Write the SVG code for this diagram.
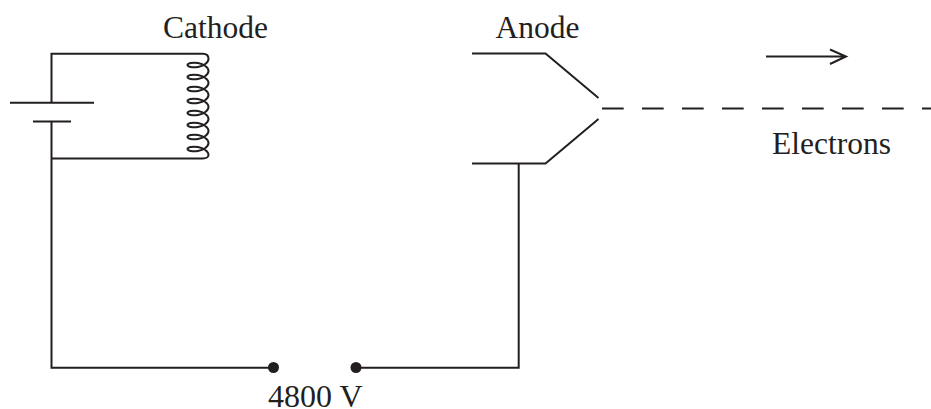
<svg xmlns="http://www.w3.org/2000/svg" width="931" height="409" viewBox="0 0 931 409">
<style>
.w{fill:none;stroke:#231f20;stroke-width:2}
.t{font-family:"Liberation Serif","Times New Roman",serif;font-size:31.5px;fill:#231f20}
.d{fill:#231f20}
</style>
<rect width="931" height="409" fill="#fff"/>
<g id="connectors">
<path class="w" d="M51.5,102.5V53.7H203C207,53.7 208.5,56 208.5,59"/>
<path class="w" d="M51.5,122V367.7H273"/>
<path class="w" d="M51.5,158.5H203C206,158.5 208.5,157 208.5,155"/>
<path class="w" d="M356,367.7H518.7V163.5"/>
<path class="w" d="M602,108.5H931" stroke-dasharray="21.7 18.3"/>
</g>
<g id="battery">
<path class="w" d="M10,102.7H94M33,121.5H71"/>
</g>
<g id="cathode">
<path class="w" d="M208.5,59c0,3.6 -5,7 -10.5,8c-5.5,1 -10.5,-.4 -10.5,-2c0,-1.6 5,-3 10.5,-2c5.5,1 10.5,4.4 10.5,8c0,3.6 -5,7 -10.5,8c-5.5,1 -10.5,-.4 -10.5,-2c0,-1.6 5,-3 10.5,-2c5.5,1 10.5,4.4 10.5,8c0,3.6 -5,7 -10.5,8c-5.5,1 -10.5,-.4 -10.5,-2c0,-1.6 5,-3 10.5,-2c5.5,1 10.5,4.4 10.5,8c0,3.6 -5,7 -10.5,8c-5.5,1 -10.5,-.4 -10.5,-2c0,-1.6 5,-3 10.5,-2c5.5,1 10.5,4.4 10.5,8c0,3.6 -5,7 -10.5,8c-5.5,1 -10.5,-.4 -10.5,-2c0,-1.6 5,-3 10.5,-2c5.5,1 10.5,4.4 10.5,8c0,3.6 -5,7 -10.5,8c-5.5,1 -10.5,-.4 -10.5,-2c0,-1.6 5,-3 10.5,-2c5.5,1 10.5,4.4 10.5,8c0,3.6 -5,7 -10.5,8c-5.5,1 -10.5,-.4 -10.5,-2c0,-1.6 5,-3 10.5,-2c5.5,1 10.5,4.4 10.5,8c0,3.6 -5,7 -10.5,8c-5.5,1 -10.5,-.4 -10.5,-2c0,-1.6 5,-3 10.5,-2c5.5,1 10.5,4.4 10.5,8"/>
<text class="t" x="163" y="38">Cathode</text>
</g>
<g id="anode">
<path class="w" d="M472,53.5H545.5L598.5,98M472,163.5H545.5L598.5,119"/>
<text class="t" x="495.5" y="38">Anode</text>
</g>
<g id="electrons">
<path class="w" d="M766,56.5H846M830,49.5L846,56.5L830,64"/>
<text class="t" x="772" y="154">Electrons</text>
</g>
<g id="terminals">
<circle class="d" cx="273.5" cy="367.5" r="5.5"/>
<circle class="d" cx="356" cy="367.5" r="5.5"/>
<text class="t" x="268" y="407" style="font-size:32px">4800 V</text>
</g>
</svg>
